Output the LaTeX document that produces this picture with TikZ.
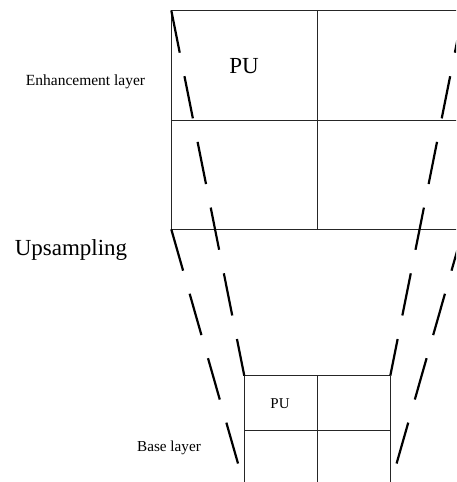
\documentclass[tikz,border=0pt]{standalone}
\usepackage{fontspec}
\setmainfont{Liberation Serif}
\begin{document}
\begin{tikzpicture}[x=1pt,y=-1pt,
  grid/.style={line width=0.9pt,draw=black!85},
  proj/.style={line width=2.2pt,dash pattern=on 43pt off 24pt},
  lbl/.style={inner sep=0pt,anchor=base}]
\clip (0,0) rectangle (456,482);
\fill[white] (0,0) rectangle (456,482);
% enhancement layer corners
\coordinate (eTL) at (171.3,10.5);
\coordinate (eTR) at (463.3,10.5);
\coordinate (eBL) at (171.3,229.3);
\coordinate (eBR) at (463.3,229.3);
% base layer corners
\coordinate (bTL) at (244.3,375.7);
\coordinate (bTR) at (390.3,375.7);
\coordinate (bBL) at (244.3,465);
\coordinate (bBR) at (390.3,465);
% enhancement grid
\draw[grid] (eTL) rectangle (eBR);
\draw[grid] (171.3,120) -- (463.3,120);
\draw[grid] (317.3,10.5) -- (317.3,229.3);
% base grid
\draw[grid] (bTL) -- (bTR);
\draw[grid] (244.3,430.3) -- (390.3,430.3);
\draw[grid] (bTL) -- (244.3,500);
\draw[grid] (317.3,375.7) -- (317.3,500);
\draw[grid] (bTR) -- (390.3,500);
% projection lines
\draw[proj] (eTL) -- (bTL);
\draw[proj] (eTR) -- (bTR);
\draw[proj] (eBL) -- (238,463.5);
\draw[proj] (eBR) -- (396.6,463.5);
% labels
\node[lbl,font=\fontsize{15.5}{18}\selectfont] (enh) at (85.5,85) {Enhancement layer};
\node[lbl,font=\fontsize{23}{27}\selectfont] (up) at (71,255) {Upsampling};
\node[lbl,font=\fontsize{23}{27}\selectfont] (pu1) at (244,73) {PU};
\node[lbl,font=\fontsize{15}{18}\selectfont] (pu2) at (280,408) {PU};
\node[lbl,font=\fontsize{15.2}{18}\selectfont] (base) at (169,451) {Base layer};
\end{tikzpicture}
\end{document}
